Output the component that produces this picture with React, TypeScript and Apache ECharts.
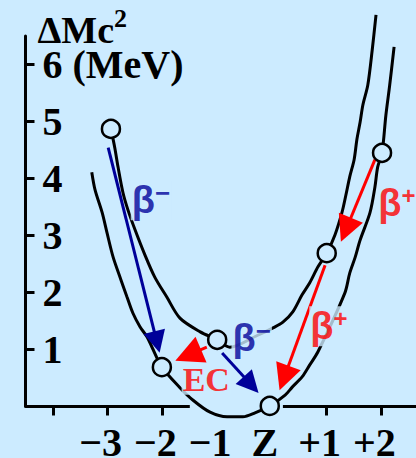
import React, { useEffect, useRef } from "react";
import * as echarts from "echarts";

// ---- data (x: distance from the stable isobar Z, y: ΔMc² in MeV) ----
const xTickValues = [-4, -3, -2, 1, 2];
const xLabelValues = [-3, -2, -1, 0, 1, 2];
const xLabelTexts = ["−3", "−2", "−1", "Z", "+1", "+2"];
const yLabelValues = [1, 2, 3, 4, 5, 6];
const yLabelTexts = ["1", "2", "3", "4", "5", "6 (MeV)"];

// odd-odd parabola (upper)
const upperCurve = [
  [-2.94, 4.87], [-2.87, 4.54], [-2.81, 4.2], [-2.72, 3.75], [-2.63, 3.45], [-2.5, 3.1],
  [-2.32, 2.66], [-2.14, 2.27], [-1.92, 1.92], [-1.68, 1.55], [-1.31, 1.31], [-1.0, 1.17],
  [-0.77, 1.04], [-0.26, 1.25], [0.02, 1.38], [0.2, 1.48], [0.38, 1.66], [0.55, 1.96],
  [0.69, 2.17], [0.84, 2.45], [1.0, 2.69], [1.15, 3.01], [1.28, 3.41], [1.35, 3.71],
  [1.42, 4.03], [1.5, 4.33], [1.55, 4.68], [1.61, 4.99], [1.66, 5.29], [1.75, 5.64],
  [1.83, 6.25], [1.9, 6.87],
];
// even-even parabola (lower)
const lowerCurve = [
  [-3.29, 4.11], [-3.23, 3.8], [-3.1, 3.4], [-3.01, 3.04], [-2.9, 2.62], [-2.76, 2.23],
  [-2.65, 1.93], [-2.54, 1.64], [-2.41, 1.4], [-2.28, 1.22], [-2.19, 1.04], [-2.01, 0.69],
  [-1.68, 0.33], [-1.44, 0.11], [-1.13, -0.1], [-0.82, -0.18], [-0.53, -0.18], [-0.31, -0.11],
  [-0.04, 0.01], [0.24, 0.2], [0.37, 0.34], [0.55, 0.52], [0.69, 0.73], [0.84, 0.96],
  [1.33, 1.99], [1.42, 2.34], [1.52, 2.62], [1.61, 2.92], [1.79, 3.4], [1.88, 3.85],
  [1.93, 4.2], [2.01, 4.45], [2.08, 5.11], [2.15, 5.64], [2.23, 6.31],
];
const upperPoints = [[-2.94, 4.87], [-1.0, 1.17], [1.0, 2.69]];
const lowerPoints = [[-2.01, 0.69], [-0.04, 0.01], [2.01, 4.45]];

// decay arrows: [from, to]
const betaMinusArrows = [
  [[-2.99, 4.54], [-2.1, 1.13]],
  [[-0.91, 0.94], [-0.38, 0.38]],
];
const ecArrows = [[[-1.19, 1.04], [-1.53, 0.9]]];
const betaPlusArrows = [
  [[1.88, 4.33], [1.35, 3.1]],
  [[0.97, 2.48], [0.22, 0.5]],
];
// x-axis baseline pieces (broken where the lower parabola dips below)
const axisPieces = [
  [[-4.5, 0], [-1.5, 0]],
  [[0.2, 0], [2.63, 0]],
];

// annotation labels
const annotationKinds = ["bm", "bm", "ec", "bp", "bp"];
const annotationAt = [
  [-2.21, 3.62],
  [-0.37, 1.2],
  [-1.2, 0.47],
  [2.28, 3.57],
  [1.04, 1.41],
];

const BG = "#CCEBFF";
const BLUE = "#000099";
const RED = "#FF0000";
const SERIF = "'Liberation Serif', 'Times New Roman', serif";
const SANS = "'Liberation Sans', Arial, sans-serif";
const X_LABEL_SHIFT = 0.13; // labels sit a little left of their ticks

const labelFormat: Record<string, string> = {
  bm: "{bb|β}{bs|−}",
  bp: "{rb|β}{rs|+}",
  ec: "{ec|EC}",
};

export default function App() {
  const ref = useRef<HTMLDivElement>(null);
  useEffect(() => {
    document.body.style.margin = "0";
    document.body.style.background = BG;
    const chart = echarts.init(ref.current!, null, { renderer: "svg" });
    const curveStyle = { color: "#000", width: 3 };
    chart.setOption({
      animation: false,
      backgroundColor: BG,
      grid: {
        left: 25.5,
        right: 0,
        top: 36,
        bottom: 51.5,
        containLabel: false,
        outerBoundsMode: "none",
      },
      xAxis: {
        type: "value",
        min: -4.5,
        max: 2.63,
        axisLine: { show: false, onZero: false },
        splitLine: { show: false },
        axisTick: {
          show: true,
          customValues: xTickValues,
          length: 9,
          lineStyle: { color: "#000", width: 3 },
        },
        axisLabel: {
          customValues: xLabelValues.map((v) => v - X_LABEL_SHIFT),
          showMinLabel: true,
          showMaxLabel: true,
          hideOverlap: false,
          formatter: (v: number) => {
            const i = xLabelValues.indexOf(Math.round(v));
            return i >= 0 ? xLabelTexts[i] : "";
          },
          margin: 21,
          fontFamily: SERIF,
          fontWeight: "bold",
          fontSize: 40,
          lineHeight: 30,
          color: "#000",
        },
      },
      yAxis: {
        type: "value",
        min: 0,
        max: 6.5,
        name: "{m|ΔMc}{s|2}",
        nameLocation: "end",
        nameGap: 6,
        nameMoveOverlap: false,
        nameTextStyle: {
          align: "left",
          verticalAlign: "middle",
          padding: [0, 0, 0, 12],
          rich: {
            m: { fontFamily: SERIF, fontWeight: "bold", fontSize: 38, lineHeight: 28, color: "#000" },
            s: {
              fontFamily: SERIF,
              fontWeight: "bold",
              fontSize: 26,
              lineHeight: 8,
              padding: [0, 0, 24, 0],
              color: "#000",
            },
          },
        },
        axisLine: { show: true, onZero: false, lineStyle: { color: "#000", width: 3 } },
        splitLine: { show: false },
        axisTick: {
          show: true,
          inside: true,
          length: 9,
          customValues: yLabelValues,
          lineStyle: { color: "#000", width: 3 },
        },
        axisLabel: {
          inside: true,
          margin: 17,
          customValues: yLabelValues,
          showMinLabel: true,
          showMaxLabel: true,
          formatter: (v: number) => {
            const i = yLabelValues.indexOf(Math.round(v));
            return i >= 0 ? yLabelTexts[i] : "";
          },
          fontFamily: SERIF,
          fontWeight: "bold",
          fontSize: 40,
          lineHeight: 30,
          color: "#000",
        },
      },
      series: [
        {
          type: "lines",
          coordinateSystem: "cartesian2d",
          data: axisPieces.map((c) => ({ coords: c })),
          lineStyle: { color: "#000", width: 3, opacity: 1 },
          symbol: "none",
          z: 1,
        },
        {
          type: "line",
          data: upperCurve,
          smooth: 0.3,
          showSymbol: false,
          clip: false,
          lineStyle: curveStyle,
          z: 2,
        },
        {
          type: "line",
          data: lowerCurve,
          smooth: 0.3,
          showSymbol: false,
          clip: false,
          lineStyle: curveStyle,
          z: 2,
        },
        {
          type: "lines",
          coordinateSystem: "cartesian2d",
          data: betaMinusArrows.map((c) => ({ coords: c })),
          lineStyle: { color: BLUE, width: 3, opacity: 1, curveness: 0 },
          symbol: ["none", "triangle"],
          symbolSize: 22,
          itemStyle: { color: BLUE },
          z: 3,
        },
        {
          type: "lines",
          coordinateSystem: "cartesian2d",
          data: ecArrows.map((c) => ({ coords: c })),
          lineStyle: { color: RED, width: 3, opacity: 1 },
          symbol: ["none", "triangle"],
          symbolSize: 28,
          itemStyle: { color: RED },
          z: 3,
        },
        {
          type: "lines",
          coordinateSystem: "cartesian2d",
          data: betaPlusArrows.map((c) => ({ coords: c })),
          lineStyle: { color: RED, width: 3, opacity: 1 },
          symbol: ["none", "triangle"],
          symbolSize: 26,
          itemStyle: { color: RED },
          z: 3,
        },
        {
          type: "scatter",
          data: [...upperPoints, ...lowerPoints],
          symbol: "circle",
          symbolSize: 18,
          itemStyle: { color: BG, borderColor: "#000", borderWidth: 2.5, opacity: 1 },
          z: 5,
        },
        {
          type: "scatter",
          data: annotationAt.map((p, i) => ({
            value: p,
            label: { formatter: labelFormat[annotationKinds[i]] },
          })),
          symbolSize: 1,
          itemStyle: { color: "rgba(0,0,0,0)" },
          z: 6,
          label: {
            show: true,
            position: "inside",
            backgroundColor: BG,
            padding: [0, 1],
            rich: {
              bb: { fontFamily: SANS, fontWeight: "bold", fontSize: 38, lineHeight: 40, color: BLUE },
              bs: { fontFamily: SANS, fontWeight: "bold", fontSize: 26, lineHeight: 14, verticalAlign: "top", color: BLUE },
              rb: { fontFamily: SANS, fontWeight: "bold", fontSize: 38, lineHeight: 40, color: RED },
              rs: { fontFamily: SANS, fontWeight: "bold", fontSize: 24, lineHeight: 16, verticalAlign: "top", color: RED },
              ec: { fontFamily: SERIF, fontWeight: "bold", fontSize: 34, lineHeight: 30, color: RED },
            },
          },
        },
      ],
    });
    return () => chart.dispose();
  }, []);
  return <div ref={ref} style={{ width: 416, height: 458, background: BG }} />;
}
